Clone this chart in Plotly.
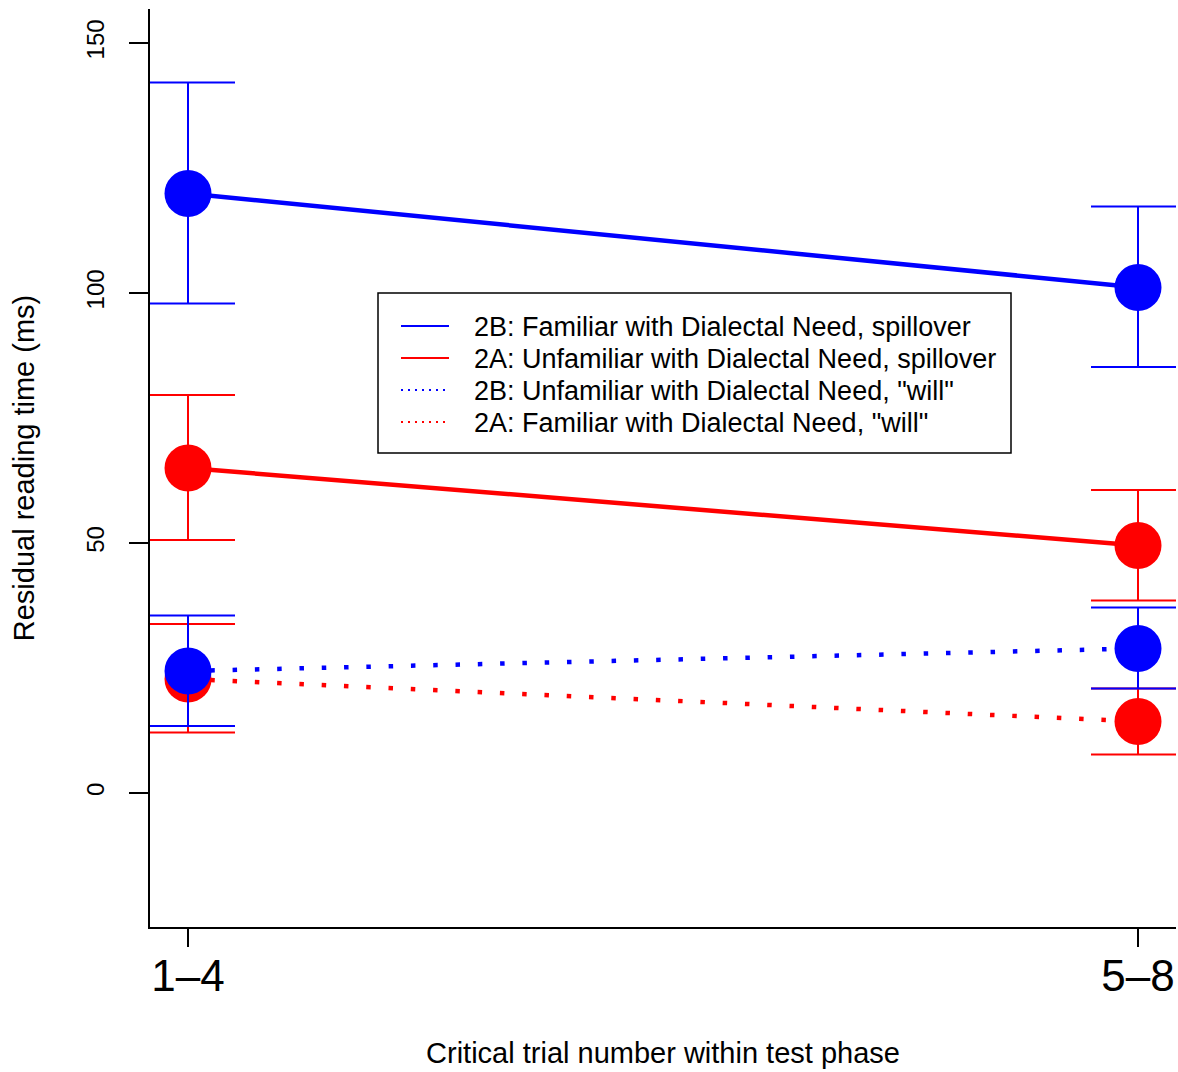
import plotly.graph_objects as go

# ---- data ----
categories = ["1–4", "5–8"]
series_names = [
    "2B: Familiar with Dialectal Need, spillover",
    "2A: Unfamiliar with Dialectal Need, spillover",
    "2B: Unfamiliar with Dialectal Need, \"will\"",
    "2A: Familiar with Dialectal Need, \"will\"",
]
blue_spill_mean = [119.9, 101.1]
blue_spill_upper = [142.1, 117.3]
blue_spill_lower = [97.9, 85.2]

red_spill_mean = [65.0, 49.5]
red_spill_upper = [79.6, 60.6]
red_spill_lower = [50.6, 38.5]

blue_will_mean = [24.4, 28.9]
blue_will_upper = [35.5, 37.1]
blue_will_lower = [13.4, 20.9]

red_will_mean = [22.8, 14.3]
red_will_upper = [33.8, 20.9]
red_will_lower = [12.1, 7.7]

y_ticks = [0, 50, 100, 150]

FONT = "Liberation Sans, Arial, Helvetica, sans-serif"
BLUE = "#0000FF"
RED = "#FF0000"

W, H = 1178, 1072
ML, MR, MT, MB = 150, 2, 9, 145
PW, PH = W - ML - MR, H - MT - MB


def px2paper(x, y):
    return (x - ML) / PW, 1 - (y - MT) / PH


def err(mean, upper, lower, color):
    return dict(
        type="data", symmetric=False,
        array=[u - m for u, m in zip(upper, mean)],
        arrayminus=[m - l for m, l in zip(mean, lower)],
        color=color, thickness=2, width=47,
    )


fig = go.Figure()

# drawing order: solid first, then red dotted, then blue dotted on top
draw_specs = [
    (series_names[0], blue_spill_mean, blue_spill_upper, blue_spill_lower, BLUE, "solid"),
    (series_names[1], red_spill_mean, red_spill_upper, red_spill_lower, RED, "solid"),
    (series_names[3], red_will_mean, red_will_upper, red_will_lower, RED, "4.5px,17.8px"),
    (series_names[2], blue_will_mean, blue_will_upper, blue_will_lower, BLUE, "4.5px,17.8px"),
]

for name, mean, up, lo, color, dash in draw_specs:
    fig.add_trace(go.Scatter(
        x=categories, y=mean, mode="lines+markers", name=name,
        line=dict(color=color, width=4.5, dash=dash),
        marker=dict(color=color, size=47, line=dict(width=0)),
        error_y=err(mean, up, lo, color),
        showlegend=False, hoverinfo="skip",
    ))

# ---- legend box (R-style legend) ----
legend_colors = [BLUE, RED, BLUE, RED]
legend_dashes = ["solid", "solid", "2px,5px", "2px,5px"]
bx0, by0 = px2paper(378, 293)
bx1, by1 = px2paper(1011, 453)
shapes = [dict(type="rect", xref="paper", yref="paper", x0=bx0, y0=by1, x1=bx1, y1=by0,
               line=dict(color="black", width=1.5), fillcolor="white", layer="above")]
annotations = []
row_y = [326, 358, 390, 422]
for name, color, dash, ry in zip(series_names, legend_colors, legend_dashes, row_y):
    lx0, ly = px2paper(401, ry)
    lx1, _ = px2paper(449, ry)
    shapes.append(dict(type="line", xref="paper", yref="paper", x0=lx0, x1=lx1, y0=ly, y1=ly,
                       line=dict(color=color, width=2, dash=dash), layer="above"))
    tx, ty = px2paper(472, ry + 1)
    annotations.append(dict(text=name, xref="paper", yref="paper", x=tx, y=ty,
                            xanchor="left", yanchor="middle", showarrow=False,
                            font=dict(size=27, family=FONT, color="black")))

fig.update_layout(
    width=W, height=H,
    margin=dict(l=ML, r=MR, t=MT, b=MB),
    paper_bgcolor="white", plot_bgcolor="white",
    font=dict(family=FONT, color="black"),
    showlegend=False,
    shapes=shapes, annotations=annotations,
    xaxis=dict(
        type="category", range=[-0.04, 1.04],
        showgrid=False, zeroline=False,
        showline=True, linecolor="black", linewidth=2,
        ticks="outside", ticklen=18, tickwidth=2, tickcolor="black",
        tickfont=dict(size=44, family=FONT, color="black"),
        ticklabelstandoff=-9,
        title=dict(text="Critical trial number within test phase",
                   font=dict(size=29, family=FONT, color="black"), standoff=44),
    ),
    yaxis=dict(
        range=[-26.8, 156.8],
        tickvals=y_ticks, ticktext=[str(v) for v in y_ticks],
        showgrid=False, zeroline=False,
        showline=True, linecolor="black", linewidth=2,
        ticks="outside", ticklen=19, tickwidth=2, tickcolor="black",
        tickangle=-90,
        tickfont=dict(size=24, family=FONT, color="black"),
        ticklabelstandoff=15,
        title=dict(text="Residual reading time (ms)",
                   font=dict(size=29, family=FONT, color="black"), standoff=39),
    ),
)

fig.write_html("out.html", config={"displayModeBar": False},
               post_script="document.body.style.margin='0';")
